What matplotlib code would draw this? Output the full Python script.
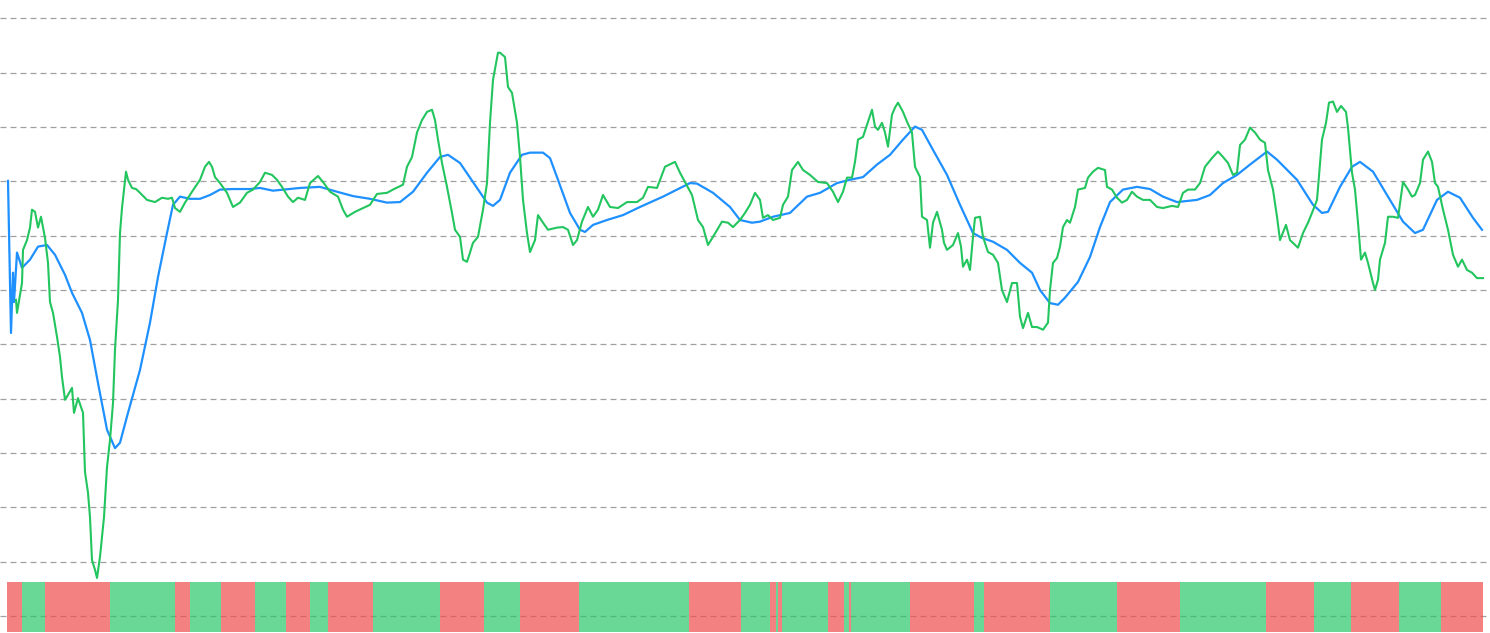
import numpy as np
import matplotlib
matplotlib.use("Agg")
import matplotlib.pyplot as plt

# price line (green), sampled along the time axis
price_t = [9, 10, 15, 16, 20, 23, 25, 28, 31, 34, 36, 38, 41, 43, 46, 50, 53, 55, 58, 61, 65, 67, 71, 76, 78,
           81, 83, 85, 88, 90, 93, 97, 100, 103, 106, 108, 111, 113, 115, 117, 119, 121, 125, 129, 133, 140,
           148, 155, 161, 165, 168, 173, 178, 185, 193, 198, 202, 205, 208, 213, 220, 226, 233, 240, 246, 253,
           258, 265, 270, 275, 281, 286, 291, 298, 303, 311, 316, 323, 331, 336, 340, 348, 356, 363, 370, 380,
           386, 396, 400, 405, 410, 415, 420, 425, 428, 431, 435, 440, 445, 448, 453, 456, 460, 463, 466, 471,
           476, 480, 483, 486, 491, 493, 498, 501, 505, 510, 513, 516, 520, 523, 528, 531, 536, 541, 550, 556,
           561, 566, 570, 575, 581, 586, 591, 596, 603, 611, 620, 630, 636, 641, 650, 658, 668, 673, 678, 685,
           691, 696, 701, 706, 715, 721, 726, 733, 738, 743, 748, 753, 756, 761, 766, 773, 776, 781, 785, 791,
           796, 803, 811, 820, 826, 831, 836, 840, 845, 848, 851, 856, 861, 865, 868, 871, 875, 878, 881, 885,
           888, 891, 896, 900, 905, 908, 913, 915, 920, 923, 926, 930, 935, 937, 940, 946, 951, 954, 956, 960,
           963, 966, 968, 973, 976, 981, 986, 991, 995, 1000, 1005, 1010, 1013, 1016, 1021, 1025, 1030, 1036,
           1041, 1043, 1046, 1050, 1053, 1056, 1060, 1063, 1068, 1071, 1078, 1081, 1086, 1091, 1098, 1100,
           1105, 1110, 1115, 1120, 1125, 1130, 1136, 1143, 1150, 1156, 1165, 1171, 1176, 1181, 1188, 1193,
           1198, 1205, 1211, 1216, 1221, 1226, 1230, 1233, 1238, 1243, 1248, 1253, 1258, 1261, 1266, 1270,
           1273, 1279, 1283, 1291, 1296, 1301, 1305, 1310, 1315, 1319, 1322, 1326, 1330, 1334, 1339, 1341,
           1345, 1348, 1351, 1354, 1358, 1361, 1366, 1368, 1371, 1373, 1378, 1381, 1386, 1391, 1396, 1401,
           1405, 1408, 1413, 1416, 1421, 1425, 1428, 1431, 1436, 1441, 1446, 1451, 1455, 1460, 1465, 1470, 1476]
price_v = [58.2, 55.8, 61.3, 67.4, 69.2, 71.5, 74.8, 74.4, 71.5, 73.5, 71.6, 69.6, 65.0, 57.8, 55.8, 51.4, 47.7,
           44.0, 39.8, 40.7, 42.0, 37.4, 40.1, 37.4, 26.5, 22.7, 18.2, 10.3, 8.5, 7.0, 10.9, 18.2, 27.4, 32.4,
           39.2, 49.0, 58.2, 70.5, 75.1, 78.5, 81.8, 80.3, 78.8, 78.6, 77.9, 76.6, 76.2, 77.0, 76.8, 77.0, 75.1,
           74.4, 76.1, 78.1, 80.3, 82.7, 83.6, 82.7, 80.8, 79.7, 77.9, 75.3, 76.1, 77.9, 78.5, 79.9, 81.6, 81.2,
           80.3, 79.0, 77.2, 76.2, 77.0, 76.6, 79.7, 81.0, 79.9, 78.1, 77.2, 74.8, 73.5, 74.4, 75.1, 75.7, 77.7,
           77.9, 78.5, 79.4, 82.7, 84.5, 89.0, 91.3, 92.8, 93.2, 91.3, 87.7, 83.4, 79.0, 74.2, 71.1, 69.8, 65.6,
           65.2, 66.9, 68.7, 69.8, 74.8, 79.7, 90.8, 98.7, 103.7, 103.7, 102.9, 97.4, 96.3, 90.8, 84.5, 76.6,
           70.5, 67.0, 69.2, 73.8, 72.4, 71.1, 71.5, 71.6, 71.1, 68.3, 69.2, 72.6, 75.3, 73.5, 74.8, 77.5, 75.3,
           75.1, 76.2, 76.2, 77.0, 79.0, 78.8, 82.7, 83.6, 81.6, 79.9, 77.5, 72.9, 71.6, 68.3, 69.8, 72.6, 72.4,
           71.6, 72.9, 74.2, 75.7, 77.9, 76.6, 73.3, 73.8, 72.9, 73.3, 75.7, 77.2, 82.1, 83.6, 82.1, 81.2, 79.9,
           79.7, 78.1, 76.2, 78.1, 80.7, 80.7, 83.6, 87.7, 88.2, 91.0, 93.2, 90.1, 89.5, 90.8, 89.0, 86.4, 92.3,
           93.6, 94.5, 92.8, 91.0, 89.0, 82.7, 80.8, 73.5, 72.9, 67.8, 72.4, 74.4, 71.1, 68.7, 67.4, 68.3, 70.5,
           68.0, 64.3, 65.6, 63.7, 69.8, 73.3, 73.5, 69.8, 67.0, 66.5, 65.0, 60.0, 57.8, 61.3, 61.3, 55.1, 53.0,
           55.8, 53.2, 53.2, 52.7, 54.0, 60.0, 65.0, 65.9, 68.0, 71.6, 72.9, 72.4, 75.3, 78.5, 78.8, 80.7, 81.8,
           82.5, 82.1, 79.0, 78.5, 77.0, 76.1, 76.6, 78.1, 77.2, 76.6, 76.6, 75.3, 75.1, 75.5, 75.3, 77.9, 78.5,
           78.5, 79.7, 82.7, 84.3, 85.5, 84.5, 83.4, 81.2, 81.6, 86.7, 87.7, 89.9, 89.0, 87.7, 87.1, 82.1, 78.5,
           73.5, 69.2, 72.0, 69.2, 67.8, 70.5, 72.4, 74.2, 76.6, 87.7, 90.8, 94.5, 94.7, 92.8, 93.9, 92.8, 89.9,
           81.6, 78.5, 72.4, 65.6, 66.9, 65.0, 61.3, 60.0, 61.9, 65.6, 68.7, 73.5, 73.5, 73.3, 79.9, 78.5, 77.2,
           77.5, 79.7, 84.0, 85.5, 83.6, 79.7, 79.0, 74.8, 71.1, 66.5, 64.3, 65.6, 63.7, 63.2, 62.2, 62.2]

# smoothed line (blue)
ma_t = [1, 4, 6, 7, 10, 15, 23, 31, 40, 48, 58, 65, 75, 83, 91, 100, 108, 113, 121, 133, 143, 151, 160, 166, 173,
        183, 193, 203, 213, 226, 243, 253, 266, 293, 313, 330, 346, 363, 380, 393, 406, 420, 433, 441, 453, 466,
        480, 486, 493, 503, 515, 523, 536, 543, 551, 563, 573, 578, 586, 600, 616, 633, 656, 670, 683, 690, 706,
        723, 733, 745, 753, 766, 783, 800, 813, 830, 843, 856, 870, 883, 896, 908, 915, 926, 940, 953, 966, 975,
        986, 1000, 1013, 1025, 1033, 1043, 1051, 1058, 1071, 1083, 1093, 1103, 1116, 1130, 1143, 1156, 1170,
        1190, 1203, 1216, 1230, 1243, 1260, 1270, 1290, 1306, 1315, 1321, 1333, 1345, 1353, 1366, 1380, 1396,
        1408, 1416, 1430, 1441, 1453, 1466, 1475]
ma_v = [80.1, 52.1, 63.2, 57.8, 66.9, 64.1, 65.6, 68.0, 68.3, 66.5, 62.8, 59.5, 55.8, 50.8, 42.9, 34.3, 30.9,
        31.9, 37.4, 45.3, 54.0, 62.4, 70.5, 75.7, 77.2, 76.8, 76.8, 77.5, 78.5, 78.6, 78.6, 78.8, 78.3, 78.8,
        79.0, 78.1, 77.3, 76.8, 76.1, 76.2, 78.1, 81.6, 84.5, 84.9, 83.4, 79.9, 76.1, 75.5, 76.6, 81.6, 84.9,
        85.3, 85.3, 84.3, 80.3, 74.2, 71.1, 70.7, 72.0, 72.9, 73.8, 75.3, 77.2, 78.5, 79.7, 79.6, 77.9, 75.3,
        72.9, 72.4, 72.6, 73.5, 74.2, 77.2, 77.9, 79.7, 80.3, 80.8, 83.1, 84.9, 87.7, 90.1, 89.5, 85.8, 81.2,
        75.7, 70.5, 69.6, 68.9, 67.4, 65.0, 63.2, 60.0, 57.6, 57.3, 58.6, 61.5, 66.1, 71.6, 76.2, 78.5, 79.0,
        78.6, 77.2, 76.2, 76.6, 77.5, 79.7, 81.2, 83.1, 85.5, 84.0, 80.3, 75.7, 74.2, 74.4, 79.0, 82.7, 83.6,
        81.8, 77.5, 72.6, 70.5, 71.1, 76.6, 78.1, 77.0, 73.3, 71.1]

# signal band below the chart: segment boundaries and state (1 = up, 0 = down)
band_edges = [0, 15, 38, 103, 168, 183, 214, 248, 279, 303, 321, 366, 433, 477, 513, 572, 682, 734, 763, 769,
              771, 775, 821, 837, 842, 844, 903, 967, 977, 1043, 1110, 1173, 1259, 1307, 1344, 1392, 1434, 1476]
band_state = [0, 1, 0, 1, 0, 1, 0, 1, 0, 1, 0, 1, 0, 1, 0, 1, 0, 1, 0, 1, 0, 1, 0, 1, 0, 1, 0, 1, 0, 1, 0, 1, 0,
              1, 0, 1, 0]

grid_levels = list(range(0, 111, 10))

plt.rcParams['lines.scale_dashes'] = False
fig = plt.figure(figsize=(14.9, 6.33), dpi=100)
ax = fig.add_axes([0, 0, 1, 1])

for g in grid_levels:
    ax.axhline(g, color="#a0a0a0", lw=0.9, dashes=(4.3, 2.9), zorder=1)

up_col = (42/255, 198/255, 104/255)
dn_col = (239/255, 76/255, 76/255)
for i, s in enumerate(band_state):
    x0, x1 = band_edges[i], band_edges[i + 1]
    ax.broken_barh([(x0, x1 - x0)], (-2.95, 9.2), facecolors=up_col if s else dn_col,
                   alpha=0.7, lw=0, zorder=2)

ax.plot(ma_t, ma_v, color="#1e90ff", lw=1.6, zorder=3, solid_joinstyle="round")
ax.plot(price_t, price_v, color="#22c55e", lw=1.5, zorder=4, solid_joinstyle="round")

ax.set_xlim(-7, 1483)
ax.set_ylim(-3.13, 113.4)
for sp in ax.spines.values():
    sp.set_visible(False)
ax.set_xticks([])
ax.set_yticks([])

fig.savefig("out.png", dpi=100)
